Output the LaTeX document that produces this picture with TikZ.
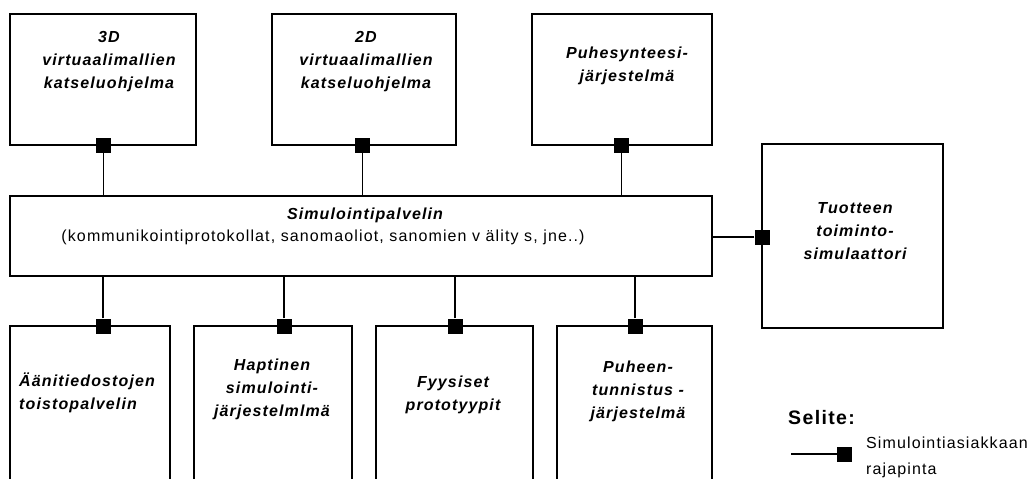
\documentclass[tikz,border=0pt]{standalone}
\usepackage{fontspec}
\setmainfont{Liberation Sans}[LetterSpace=7]
\begin{document}
\begin{tikzpicture}[x=1pt,y=-1pt,
  box/.style={draw, line width=1.8pt, rectangle, inner sep=0pt},
  lbl/.style={font=\bfseries\itshape\fontsize{16}{23}\selectfont, align=center, inner sep=0pt, anchor=base},
  plain/.style={font=\fontsize{16}{26}\selectfont, inner sep=0pt},
  port/.style={fill=black, draw=none, minimum size=15pt, inner sep=0pt},
  link/.style={line width=1.8pt}]
\useasboundingbox (0,0) rectangle (1031,479);
\clip (0,0) rectangle (1031,479);

% client boxes above the server (labels anchored at their last baseline)
\node[box, minimum width=186pt, minimum height=131pt] (v3d) at (103,79.5) {};
\node[box, minimum width=184pt, minimum height=131pt] (v2d) at (364,79.5) {};
\node[box, minimum width=180pt, minimum height=131pt] (synt) at (622,79.5) {};
\node[lbl] (t3d) at (109,88) {3D\\virtuaalimallien\\katseluohjelma};
\node[lbl] (t2d) at (366,88) {2D\\virtuaalimallien\\katseluohjelma};
\node[lbl] (tsynt) at (627,81) {Puhesynteesi-\\järjestelmä};

% simulation server
\node[box, minimum width=702pt, minimum height=80pt] (srv) at (361,236) {};
\node[lbl] (tsrv) at (365,219) {Simulointipalvelin};
\node[plain, anchor=base] (tsrv2) at (323,241.5) {(kommunikointiprotokollat, sanomaoliot, sanomien v älity s, jne..)};

% product function simulator
\node[box, minimum width=181pt, minimum height=184pt] (tuote) at (852.5,236) {};
\node[lbl] (ttuote) at (855,259) {Tuotteen\\toiminto-\\simulaattori};

% client boxes below the server
\node[box, minimum width=160pt, minimum height=169pt] (aani) at (90,410.5) {};
\node[box, minimum width=158pt, minimum height=169pt] (hapt) at (273,410.5) {};
\node[box, minimum width=157pt, minimum height=169pt] (fyys) at (454.5,410.5) {};
\node[box, minimum width=155pt, minimum height=169pt] (tunn) at (634.5,410.5) {};
\node[lbl, align=left, anchor=base west] (taani) at (19,409) {Äänitiedostojen\\toistopalvelin};
\node[lbl] (thapt) at (272,416) {Haptinen\\simulointi-\\järjestelmlmä};
\node[lbl] (tfyys) at (453,410) {Fyysiset\\prototyypit};
\node[lbl] (ttunn) at (638,418) {Puheen-\\tunnistus -\\järjestelmä};

% client interface ports
\node[port] (p3d) at (103.5,145) {};
\node[port] (p2d) at (362.5,145) {};
\node[port] (psynt) at (621.5,145) {};
\node[port] (ptuote) at (762,237) {};
\node[port] (paani) at (103,326) {};
\node[port] (phapt) at (284,326) {};
\node[port] (pfyys) at (455,326) {};
\node[port] (ptunn) at (635,326) {};

% connections to the server
\draw[link] (p3d.south) -- (p3d.south |- srv.north);
\draw[link] (p2d.south) -- (p2d.south |- srv.north);
\draw[link] (psynt.south) -- (psynt.south |- srv.north);
\draw[link] (ptuote.west) -- (ptuote.west -| srv.east);
\draw[link] (paani.north) -- (paani.north |- srv.south);
\draw[link] (phapt.north) -- (phapt.north |- srv.south);
\draw[link] (pfyys.north) -- (pfyys.north |- srv.south);
\draw[link] (ptunn.north) -- (ptunn.north |- srv.south);

% legend
\node[font=\bfseries\fontsize{19.5}{22}\selectfont, inner sep=0pt, anchor=base west] (selite) at (788,424) {Selite:};
\coordinate (lgstart) at (791,454);
\node[port] (lgport) at (844.5,454) {};
\draw[link] (lgstart) -- (lgport.west);
\node[plain, align=left, anchor=base west] (lgtext) at (866,474) {Simulointiasiakkaan\\rajapinta};
\end{tikzpicture}
\end{document}
